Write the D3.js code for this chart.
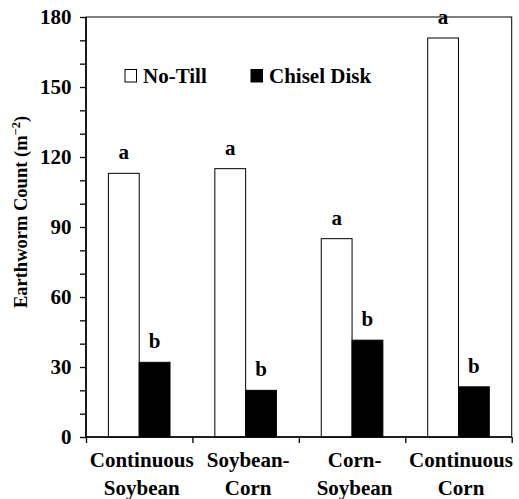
<!DOCTYPE html>
<html><head><meta charset="utf-8">
<script src="https://cdn.jsdelivr.net/npm/d3@7"></script>
</head><body style="margin:0;background:#fff">
<svg id="c" width="519" height="499" style="display:block"></svg>
<script>
const categories = [["Continuous","Soybean"],["Soybean-","Corn"],["Corn-","Soybean"],["Continuous","Corn"]];
const series = ["No-Till","Chisel Disk"];
const noTill = [113, 115, 85, 171];
const chisel = [32, 20, 41.5, 21.5];
const noTillLetters = ["a","a","a","a"];
const chiselLetters = ["b","b","b","b"];
const yTicks = [0,30,60,90,120,150,180];

const FF = '"Liberation Serif"';
const svg = d3.select("#c");
const L=86, R=511.7, T=17, B=437;
const keys = categories.map((c,i)=>"c"+i);
const x0 = d3.scaleBand().domain(keys).range([L,R]);
const bw = x0.bandwidth();
const gw = 61.6;
const x1 = d3.scaleBand().domain(series).range([(bw-gw)/2,(bw+gw)/2]);
const y = d3.scaleLinear().domain([0,180]).range([B,T]);

svg.append("rect").attr("x",L).attr("y",T).attr("width",R-L).attr("height",B-T)
  .attr("fill","none").attr("stroke","#000").attr("stroke-width",1);

const data = [];
keys.forEach((k,i)=>{
  data.push({k, s:series[0], v:noTill[i], l:noTillLetters[i]});
  data.push({k, s:series[1], v:chisel[i], l:chiselLetters[i]});
});
svg.append("g").selectAll("rect").data(data).join("rect")
  .attr("x",d=>x0(d.k)+x1(d.s)).attr("width",x1.bandwidth())
  .attr("y",d=>y(d.v)).attr("height",d=>y(0)-y(d.v))
  .attr("fill",d=>d.s===series[0]?"#fff":"#000")
  .attr("stroke","#000").attr("stroke-width",1);
svg.append("g").selectAll("text").data(data).join("text")
  .attr("x",d=>x0(d.k)+x1(d.s)+x1.bandwidth()/2).attr("y",d=>y(d.v)-14)
  .attr("text-anchor","middle").attr("font-size",21)
  .attr("font-family",FF).attr("font-weight","bold").text(d=>d.l);

// y axis
const ya = d3.axisLeft(y).tickValues(d3.range(0,181,10)).tickSize(6).tickPadding(8.5)
  .tickFormat(d=>yTicks.includes(d)?d:"");
const gy = svg.append("g").attr("transform",`translate(${L},0)`).call(ya);
gy.attr("font-family",FF).attr("font-size",21).attr("font-weight","bold");
gy.select(".domain").attr("stroke-width",1.6).attr("d",`M0,${T}V${B}`);
gy.selectAll(".tick line").attr("stroke-width",1.3);
gy.selectAll(".tick text").attr("font-family",FF).attr("font-size",21).attr("font-weight","bold").attr("fill","#000");

// x axis
const xa = d3.scaleLinear().domain([0,4]).range([L,R]);
const gx = svg.append("g").attr("transform",`translate(0,${B})`)
  .call(d3.axisBottom(xa).tickValues([0,1,2,3,4]).tickSize(6).tickFormat(""));
gx.select(".domain").attr("stroke-width",1.6).attr("d",`M${L},0H${R}`);
gx.selectAll(".tick line").attr("stroke-width",1.3);

const xl = svg.append("g").selectAll("text").data(categories).join("text")
  .attr("text-anchor","middle").attr("font-size",21)
  .attr("font-family",FF).attr("font-weight","bold")
  .attr("transform",(d,i)=>`translate(${x0(keys[i])+bw/2+2.5},0)`);
xl.append("tspan").attr("x",0).attr("y",466.5).text(d=>d[0]);
xl.append("tspan").attr("x",0).attr("y",494.5).text(d=>d[1]);

// y label
const yl = svg.append("text").attr("transform","translate(27,212) rotate(-90)")
  .attr("text-anchor","middle").attr("font-size",18.5)
  .attr("font-family",FF).attr("font-weight","bold");
yl.append("tspan").text("Earthworm Count (m");
yl.append("tspan").attr("dy",-7).attr("font-size",12.5).text("\u22122");
yl.append("tspan").attr("dy",7).text(")");

// legend
const leg = [{s:series[0],x:125,fill:"#fff"},{s:series[1],x:251,fill:"#000"}];
const lg = svg.append("g").selectAll("g").data(leg).join("g");
lg.append("rect").attr("x",d=>d.x).attr("y",69.5).attr("width",11.5).attr("height",12.5)
  .attr("fill",d=>d.fill).attr("stroke","#000").attr("stroke-width",1);
lg.append("text").attr("x",d=>d.x+18).attr("y",82.5).attr("font-size",21)
  .attr("font-family",FF).attr("font-weight","bold").text(d=>d.s);
</script>
</body></html>
